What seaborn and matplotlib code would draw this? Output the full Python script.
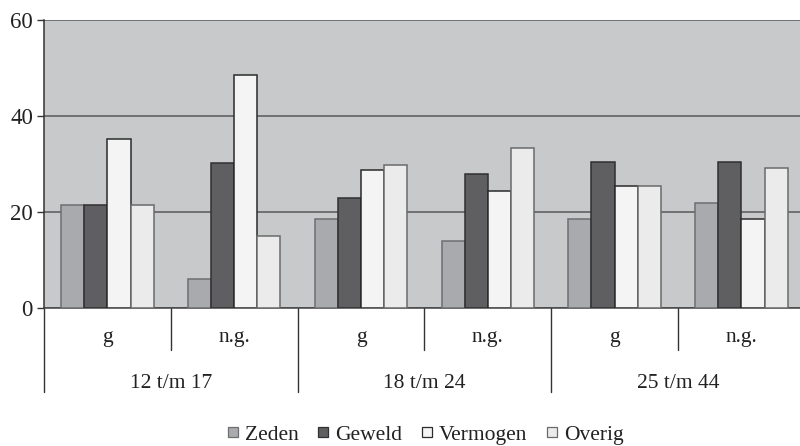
import matplotlib
matplotlib.use("Agg")
import matplotlib.pyplot as plt
from matplotlib.lines import Line2D
import seaborn as sns
import pandas as pd

# ---------------- data ----------------
ages = ["12 t/m 17", "18 t/m 24", "25 t/m 44"]
status = ["g", "n.g."]
offences = ["Zeden", "Geweld", "Vermogen", "Overig"]

zeden = [21.5, 6.0, 18.6, 14.0, 18.6, 21.9]
geweld = [21.5, 30.2, 22.9, 28.0, 30.5, 30.5]
vermogen = [35.2, 48.5, 28.7, 24.4, 25.5, 18.6]
overig = [21.5, 15.0, 29.8, 33.4, 25.5, 29.1]

fill = {"Zeden": "#a9aaad", "Geweld": "#5f5f62", "Vermogen": "#f4f4f4", "Overig": "#ebebeb"}
edge = {"Zeden": "#6e6e70", "Geweld": "#303032", "Vermogen": "#2a2a2a", "Overig": "#6a6a6a"}

groups = [f"{a}|{s}" for a in ages for s in status]
rows = []
for name, vals in zip(offences, [zeden, geweld, vermogen, overig]):
    for g, v in zip(groups, vals):
        rows.append({"group": g, "offence": name, "value": v})
df = pd.DataFrame(rows)

# ---------------- figure ----------------
sns.set_style("white")
plt.rcParams["font.family"] = ["Liberation Serif", "DejaVu Serif"]

fig = plt.figure(figsize=(8, 4.46), dpi=100)
ax = fig.add_axes([0.055, 0.3094, 0.951, 0.6457])
ax.set_facecolor("#c8c9cb")
ax.set_axisbelow(True)

sns.barplot(
    data=df,
    x="group",
    y="value",
    hue="offence",
    order=groups,
    hue_order=offences,
    palette=fill,
    width=0.73,
    saturation=1,
    linewidth=1.1,
    errorbar=None,
    legend=False,
    ax=ax,
)
for name, cont in zip(offences, ax.containers):
    for bar in cont:
        bar.set_edgecolor(edge[name])
        bar.set_zorder(3)

ax.set_ylim(0, 60)
ax.set_xlim(-0.5, len(groups) - 0.5)
ax.set_yticks([0, 20, 40, 60])
ax.yaxis.grid(True, color="#58585a", linewidth=1.1)
ax.tick_params(axis="y", labelsize=16.5, length=5, width=1, color="#333333", pad=3,
               left=True, labelcolor="#222222")
ax.set_xticks([])
ax.set_xlabel("")
ax.set_ylabel("")

for side in ["top", "right"]:
    ax.spines[side].set_visible(False)
ax.spines["left"].set_color("#333333")
ax.spines["bottom"].set_color("#444444")
ax.spines["left"].set_linewidth(1.1)
ax.spines["bottom"].set_linewidth(1.1)

# ------------- multi-level x axis -------------
trans = ax.get_xaxis_transform()
for i, g in enumerate(groups):
    ax.text(i, -0.104, g.split("|")[1], transform=trans, ha="center", va="center",
            fontsize=15.5, color="#222222")
for j, a in enumerate(ages):
    ax.text(2 * j + 0.5, -0.262, a, transform=trans, ha="center", va="center",
            fontsize=15.5, color="#222222")
for x in [0.5, 2.5, 4.5]:
    ax.plot([x, x], [0, -0.146], transform=trans, color="#333333", lw=1, clip_on=False)
for x in [-0.5, 1.5, 3.5, 5.5]:
    ax.plot([x, x], [0, -0.292], transform=trans, color="#333333", lw=1, clip_on=False)

# ---------------- legend ----------------
handles = [
    Line2D([], [], linestyle="none", marker="s", markersize=7.5, markerfacecolor=fill[n],
           markeredgecolor=edge[n], markeredgewidth=0.9, label=n)
    for n in offences
]
ax.legend(handles=handles, loc="center", bbox_to_anchor=(0.5, -0.44), ncol=4,
          frameon=False, fontsize=15.5, handlelength=0.7, handletextpad=0.2,
          columnspacing=0.8, labelcolor="#222222")

plt.savefig("out.png", dpi=100)
plt.close()
